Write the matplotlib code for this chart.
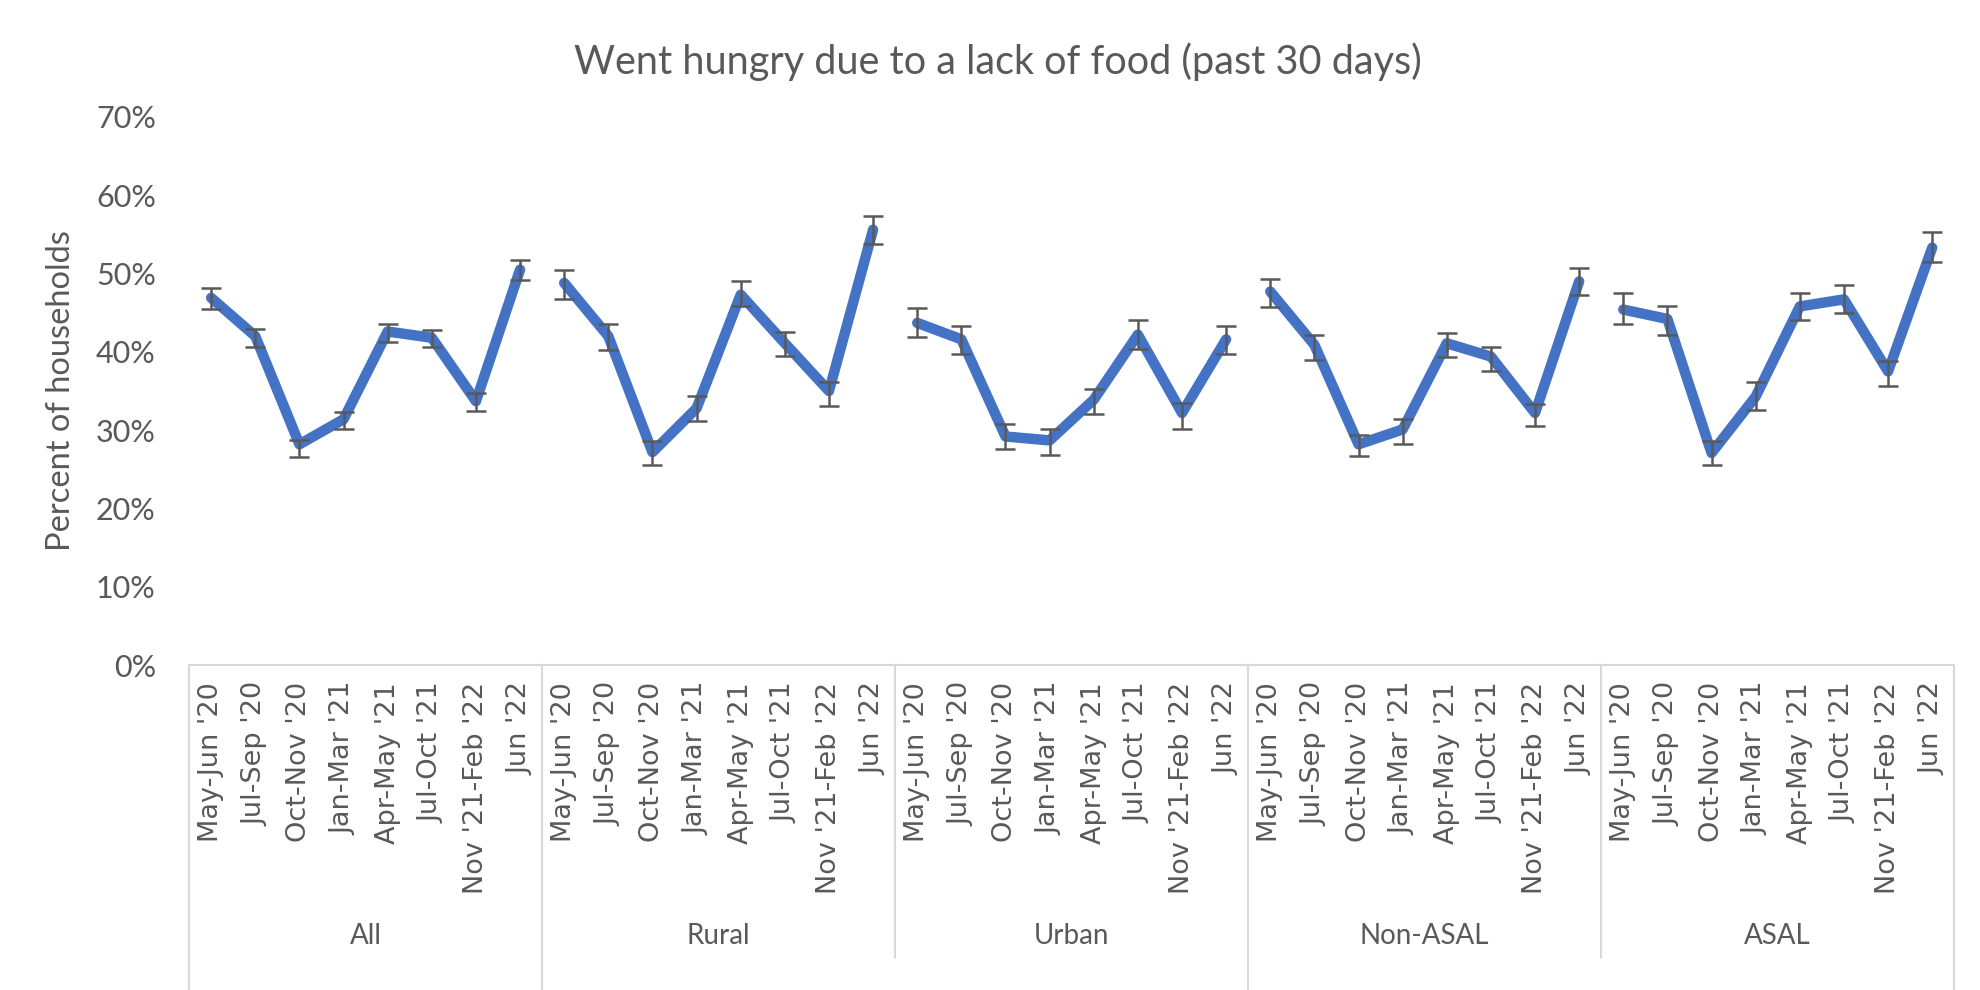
import numpy as np
import matplotlib
matplotlib.use('Agg')
import matplotlib.pyplot as plt
import matplotlib.transforms as mtransforms

# periods and groups
periods = ["May-Jun '20", "Jul-Sep '20", "Oct-Nov '20", "Jan-Mar '21",
           "Apr-May '21", "Jul-Oct '21", "Nov '21-Feb '22", "Jun '22"]
groups = ['All', 'Rural', 'Urban', 'Non-ASAL', 'ASAL']
supergroups = ['Overall', 'Residence', 'Region']
supergroup_spans = [(0, 1), (1, 3), (3, 5)]  # group index ranges

# share of households that went hungry (%), with lower / upper CI
all_vals = [46.9, 42.0, 28.2, 31.4, 42.6, 41.8, 33.7, 50.5]
all_lo = [45.5, 40.6, 26.6, 30.1, 41.3, 40.6, 32.5, 49.2]
all_hi = [48.2, 42.9, 28.8, 32.3, 43.6, 42.8, 34.8, 51.7]

rural_vals = [48.8, 42.0, 27.2, 32.8, 47.3, 41.1, 35.0, 55.6]
rural_lo = [46.8, 40.2, 25.5, 31.2, 45.8, 39.5, 33.1, 53.8]
rural_hi = [50.4, 43.6, 28.6, 34.4, 49.0, 42.6, 36.1, 57.4]

urban_vals = [43.7, 41.6, 29.2, 28.7, 33.9, 42.2, 32.2, 41.6]
urban_lo = [41.9, 39.7, 27.6, 26.9, 32.1, 40.4, 30.2, 39.7]
urban_hi = [45.6, 43.3, 30.8, 30.1, 35.3, 44.1, 33.5, 43.3]

nonasal_vals = [47.7, 40.9, 28.2, 30.1, 41.1, 39.4, 32.2, 49.0]
nonasal_lo = [45.7, 39.0, 26.7, 28.3, 39.4, 37.6, 30.5, 47.3]
nonasal_hi = [49.3, 42.2, 29.4, 31.4, 42.4, 40.6, 33.3, 50.7]

asal_vals = [45.4, 44.2, 27.1, 34.3, 45.8, 46.7, 37.5, 53.3]
asal_lo = [43.5, 42.2, 25.5, 32.6, 44.1, 45.0, 35.6, 51.5]
asal_hi = [47.5, 45.8, 28.6, 36.2, 47.5, 48.5, 38.8, 55.3]

series = [(all_vals, all_lo, all_hi), (rural_vals, rural_lo, rural_hi),
          (urban_vals, urban_lo, urban_hi), (nonasal_vals, nonasal_lo, nonasal_hi),
          (asal_vals, asal_lo, asal_hi)]

text_col = '#595959'
line_col = '#4472C4'
grid_col = '#D9D9D9'
cal = ['Lato', 'DejaVu Sans']

fig = plt.figure(figsize=(19.8, 9.9), dpi=100)
ax = fig.add_axes([0.0955, 0.328, 0.8915, 0.554])

n = len(periods)
for g, (v, lo, hi) in enumerate(series):
    x = np.arange(n) + g * n + 0.5
    v = np.array(v) / 100
    lo = np.array(lo) / 100
    hi = np.array(hi) / 100
    ax.plot(x, v, color=line_col, lw=7.5, solid_capstyle='round',
            solid_joinstyle='round', zorder=2)
    ax.errorbar(x, v, yerr=[v - lo, hi - v], fmt='none', ecolor=text_col,
                elinewidth=1.8, capsize=7.5, capthick=1.8, zorder=3)

ax.set_xlim(0, n * len(groups))
ax.set_ylim(0, 0.70)
ax.set_yticks(np.arange(0, 0.71, 0.1))
ax.set_yticklabels([f'{int(round(t * 100))}%' for t in np.arange(0, 0.71, 0.1)],
                   family=cal, fontsize=22, color=text_col)
ax.tick_params(axis='y', length=0, pad=24)

xt = np.arange(n * len(groups)) + 0.5
ax.set_xticks(xt)
ax.set_xticklabels(periods * len(groups), rotation=90, family='DejaVu Sans',
                   fontsize=19.5, color=text_col)
ax.tick_params(axis='x', length=0, pad=12)

for s in ['top', 'right', 'left']:
    ax.spines[s].set_visible(False)
ax.spines['bottom'].set_color(grid_col)
ax.spines['bottom'].set_linewidth(1.5)

ax.set_ylabel('Percent of households', family=cal, fontsize=23.5, color=text_col,
              labelpad=14)
fig.text(0.504, 0.938, 'Went hungry due to a lack of food (past 30 days)',
         family=cal, fontsize=28.5, color=text_col, ha='center', va='center')

# multi-level category axis: separators and group labels
trans = mtransforms.blended_transform_factory(ax.transData, ax.transAxes)
long_seps = [0] + [n * e for _, e in supergroup_spans]
for k in range(len(groups) + 1):
    xs = k * n
    y_end = -0.60 if xs in long_seps else -0.531
    ax.plot([xs, xs], [0, y_end], transform=trans, color=grid_col, lw=1.5,
            clip_on=False)

for g, name in enumerate(groups):
    ax.text(g * n + n / 2, -0.494, name, transform=trans, ha='center',
            va='center', family=cal, fontsize=20, color=text_col)

for name, (s, e) in zip(supergroups, supergroup_spans):
    ax.text((s + e) * n / 2, -0.594, name, transform=trans, ha='center',
            va='top', family=cal, fontsize=20, color=text_col)

fig.savefig('out.png', dpi=100)
